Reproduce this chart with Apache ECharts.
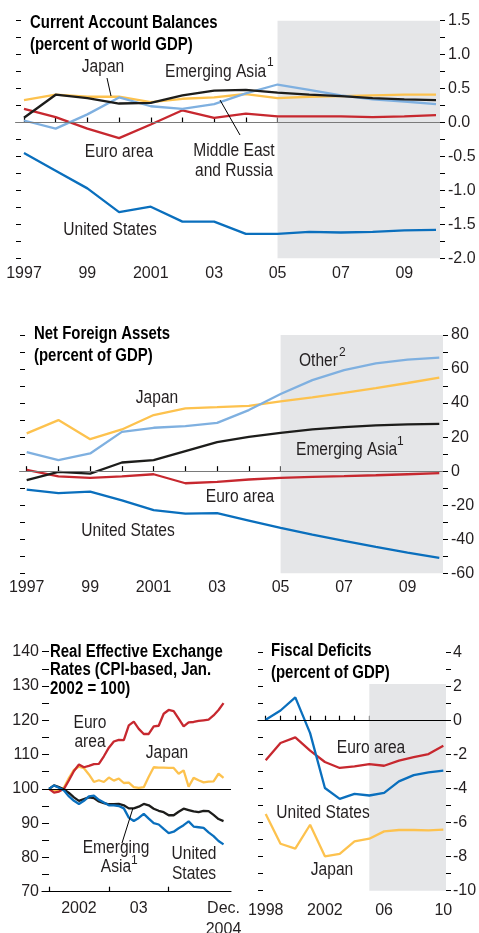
<!DOCTYPE html>
<html>
<head>
<meta charset="utf-8">
<script src="https://cdn.jsdelivr.net/npm/echarts@6/dist/echarts.min.js"></script>
<style>
  html, body { margin: 0; padding: 0; background: #fff; }
  #chart { width: 479px; height: 933px; }
</style>
</head>
<body>
<div id="chart"></div>
<script>
// ---- data ----
// Current account balances (percent of world GDP)
const caYears = [1997, 1998, 1999, 2000, 2001, 2002, 2003, 2004, 2005, 2006, 2007, 2008, 2009, 2010]
const caUS = [-0.45, -0.71, -0.97, -1.32, -1.24, -1.46, -1.46, -1.64, -1.64, -1.61, -1.62, -1.61, -1.59, -1.58]
const caEuro = [0.20, 0.08, -0.09, -0.23, -0.03, 0.18, 0.07, 0.13, 0.09, 0.09, 0.09, 0.08, 0.09, 0.11]
const caJapan = [0.33, 0.41, 0.38, 0.38, 0.30, 0.35, 0.37, 0.42, 0.36, 0.38, 0.39, 0.40, 0.41, 0.41]
const caAsia = [0.07, 0.41, 0.36, 0.28, 0.29, 0.40, 0.47, 0.48, 0.44, 0.41, 0.39, 0.36, 0.34, 0.33]
const caMER = [0.03, -0.09, 0.12, 0.37, 0.24, 0.20, 0.27, 0.43, 0.56, 0.48, 0.40, 0.34, 0.31, 0.27]

// Net foreign assets (percent of GDP)
const nfaYears = [1997, 1998, 1999, 2000, 2001, 2002, 2003, 2004, 2005, 2006, 2007, 2008, 2009, 2010]
const nfaJapan = [22.2, 30.0, 18.8, 24.5, 33.0, 36.9, 37.6, 38.4, 41.0, 43.3, 46.0, 48.8, 51.8, 54.9]
const nfaOther = [11.2, 6.5, 10.4, 23.1, 25.5, 26.5, 28.4, 35.9, 45.3, 53.5, 59.4, 63.3, 65.5, 66.7]
const nfaAsia = [-5.3, -0.4, -1.4, 5.1, 6.5, 11.8, 17.1, 20.2, 22.5, 24.5, 25.9, 26.9, 27.5, 27.8]
const nfaEuro = [0.8, -3.1, -3.9, -3.1, -1.8, -7.1, -6.3, -4.9, -3.9, -3.3, -2.9, -2.4, -1.8, -1.2]
const nfaUS = [-10.8, -12.9, -12.0, -17.1, -22.9, -24.9, -24.7, -29.0, -33.3, -37.3, -41.0, -44.5, -47.8, -51.0]

// Real effective exchange rates, monthly Jan. 2002 (index 0) to Dec. 2004 (index 35)
const reerMonths = [0, 1, 2, 3, 4, 5, 6, 7, 8, 9, 10, 11, 12, 13, 14, 15, 16, 17,
  18, 19, 20, 21, 22, 23, 24, 25, 26, 27, 28, 29, 30, 31, 32, 33, 34, 35]
const reerEuro = [100, 98.9, 99.2, 100, 102.5, 105.2, 107.1, 106.3, 106.7, 107.2, 107.3, 109.5,
  112.0, 113.8, 114.3, 114.2, 118.5, 119.6, 117.5, 116.0, 116.0, 118.2, 118.4, 121.9,
  123.0, 122.7, 120.5, 118.2, 119.4, 119.5, 119.8, 120.0, 120.2, 121.4, 123.0, 125.0]
const reerJapan = [100, 99.5, 99.6, 100.4, 103.2, 105.5, 106.5, 106.0, 104.2, 102.0, 102.5, 102.0,
  103.3, 102.4, 103.0, 101.7, 101.8, 100.5, 100.3, 100.5, 103.5, 106.3, 106.2, 106.2,
  106.1, 106.1, 104.4, 105.4, 100.6, 103.2, 102.5, 101.9, 102.1, 102.2, 104.4, 103.2]
const reerAsia = [100, 101.0, 100.5, 99.8, 98.8, 97.5, 96.5, 97.0, 97.5, 97.3, 96.3, 95.8,
  95.5, 95.5, 95.6, 95.2, 94.3, 94.3, 94.8, 95.6, 95.2, 94.2, 93.6, 93.2,
  92.3, 92.3, 93.3, 94.2, 93.8, 93.4, 93.2, 93.6, 93.5, 92.4, 91.2, 90.6]
const reerUS = [100, 101.0, 100.3, 99.5, 97.8, 96.5, 95.6, 96.5, 97.8, 98.0, 96.8, 96.0,
  95.2, 95.2, 95.0, 94.3, 91.6, 90.6, 91.5, 92.7, 91.3, 90.0, 89.6, 88.3,
  87.1, 87.5, 88.5, 89.4, 90.5, 89.0, 88.8, 88.6, 87.3, 86.2, 84.8, 83.8]

// Fiscal deficits (percent of GDP)
const fdYears = [1998, 1999, 2000, 2001, 2002, 2003, 2004, 2005, 2006, 2007, 2008, 2009, 2010]
const fdUS = [0.06, 0.6, 1.37, -0.73, -3.96, -4.6, -4.3, -4.4, -4.25, -3.57, -3.2, -3.04, -2.94]
const fdEuro = [-2.33, -1.31, -0.98, -1.76, -2.43, -2.78, -2.69, -2.55, -2.65, -2.35, -2.14, -1.96, -1.47]
const fdJapan = [-5.49, -7.24, -7.53, -6.12, -7.98, -7.84, -7.1, -6.94, -6.51, -6.43, -6.43, -6.45, -6.41]

// tick / label positions
const yearTicks = [1997, 1998, 1999, 2000, 2001, 2002, 2003, 2004, 2005, 2006, 2007, 2008, 2009, 2010]
const yearLabels = [1997, 1999, 2001, 2003, 2005, 2007, 2009]
const fdYearTicks = [1998, 1999, 2000, 2001, 2002, 2003, 2004, 2005, 2006, 2007, 2008, 2009, 2010]
const fdYearLabels = [1998, 2002, 2006, 2010]
const reerTicks = [0, 12, 24]
const reerLabels = [6, 18, 35]
const reerLabelText = { 6: '2002', 18: '03', 35: 'Dec.\n2004' }
const caYLabels = [-2, -1.5, -1, -0.5, 0, 0.5, 1, 1.5]
const projectionStart = 2005

// ---- style ----
// no condensed face installed: Arial-metric font, annotations squeezed with scaleX
const FONT = "'Liberation Sans', Arial, sans-serif"
const TXT = '#231f20'
const C = {
  us: '#0a6fbd',
  euro: '#c7282f',
  japan: '#fdc24e',
  asia: '#1d1d1b',
  light: '#7fb0e0',
  shade: '#e5e6e8'
}

const chart = echarts.init(document.getElementById('chart'), null, { renderer: 'canvas' })

const line = (xs, ys, color, idx) => ({
  type: 'line',
  xAxisIndex: idx,
  yAxisIndex: idx * 2,
  data: xs.map((x, i) => [x, ys[i]]),
  symbol: 'none',
  silent: true,
  lineStyle: { color: color, width: 2.3 },
  itemStyle: { color: color }
})

const shortYear = (v) => (v === 1997 || v === 2001 || v === 1998 || v === 2002) ? String(v) : String(v).slice(2)

const xBase = (grid, min, max, ticks, labels, fmt, margin) => ({
  type: 'value',
  gridIndex: grid,
  min: min,
  max: max,
  splitLine: { show: false },
  axisLine: { show: true, lineStyle: { color: '#000', width: 1.2 } },
  axisTick: { show: true, inside: true, length: 5, customValues: ticks, lineStyle: { color: '#000', width: 1.2 } },
  axisLabel: { customValues: labels, formatter: fmt, fontFamily: FONT, fontSize: 16, color: TXT, margin: margin, lineHeight: 21 }
})

const yPair = (grid, min, max, interval, labels, fmt, margin, leftLabels) => {
  const right = {
    type: 'value', gridIndex: grid, position: 'right', min: min, max: max, interval: interval,
    splitLine: { show: false },
    axisLine: { show: false },
    axisTick: { show: true, inside: !!leftLabels, length: 5, lineStyle: { color: '#000', width: 1 } },
    axisLabel: { show: !leftLabels, customValues: labels, formatter: fmt, fontFamily: FONT, fontSize: 16, color: TXT, margin: margin }
  }
  const left = {
    type: 'value', gridIndex: grid, position: 'left', min: min, max: max, interval: interval,
    splitLine: { show: false },
    axisLine: { show: false },
    axisTick: { show: true, inside: true, length: 5, lineStyle: { color: '#000', width: 1 } },
    axisLabel: { show: !!leftLabels, customValues: labels, formatter: fmt, fontFamily: FONT, fontSize: 16, color: TXT, margin: margin }
  }
  return [right, left]
}

// text annotations
const txt = (x, y, text, align, kind) => {
  const isBold = kind === 'bold'
  const isSup = kind === 'sup'
  return {
    type: 'text', x: x, y: y, silent: true, z: 20,
    scaleX: isSup ? 1 : (isBold ? 0.83 : 0.89),
    style: {
      text: text,
      fontFamily: FONT,
      fontSize: isSup ? 12 : (isBold ? 18 : 17.5),
      fontWeight: isBold ? 'bold' : 'normal',
      fill: isBold ? '#000' : TXT,
      align: align || 'left',
      verticalAlign: 'middle'
    }
  }
}
const lead = (x1, y1, x2, y2) => ({
  type: 'line', silent: true, z: 20,
  shape: { x1: x1, y1: y1, x2: x2, y2: y2 },
  style: { stroke: '#000', lineWidth: 1 }
})

const shade = (x0, x1, y0, y1) => ({
  silent: true,
  itemStyle: { color: C.shade },
  data: [[{ xAxis: x0, yAxis: y0 }, { xAxis: x1, yAxis: y1 }]]
})
const zeroLine = (v, color) => ({
  silent: true, symbol: 'none', label: { show: false },
  lineStyle: { color: color, width: 1.2, type: 'solid' },
  data: [{ yAxis: v }]
})

const caSeries = [
  Object.assign(line(caYears, caUS, C.us, 0), {
    markArea: shade(projectionStart, 2010.13, -2, 1.5),
    markLine: zeroLine(0, '#7a7a7a')
  }),
  line(caYears, caEuro, C.euro, 0),
  line(caYears, caJapan, C.japan, 0),
  line(caYears, caMER, C.light, 0),
  line(caYears, caAsia, C.asia, 0)
]
const nfaSeries = [
  Object.assign(line(nfaYears, nfaUS, C.us, 1), {
    markArea: shade(projectionStart, 2010.12, -60, 80),
    markLine: zeroLine(0, '#7a7a7a')
  }),
  line(nfaYears, nfaEuro, C.euro, 1),
  line(nfaYears, nfaJapan, C.japan, 1),
  line(nfaYears, nfaOther, C.light, 1),
  line(nfaYears, nfaAsia, C.asia, 1)
]
const reerSeries = [
  Object.assign(line(reerMonths, reerJapan, C.japan, 2), { markLine: zeroLine(100, '#000') }),
  line(reerMonths, reerEuro, C.euro, 2),
  line(reerMonths, reerAsia, C.asia, 2),
  line(reerMonths, reerUS, C.us, 2)
]
const fdSeries = [
  Object.assign(line(fdYears, fdJapan, C.japan, 3), {
    markArea: shade(projectionStart, 2010.18, -10, 2.16),
    markLine: zeroLine(0, '#000')
  }),
  line(fdYears, fdEuro, C.euro, 3),
  line(fdYears, fdUS, C.us, 3)
]

const option = {
  animation: false,
  backgroundColor: '#fff',
  grid: [
    { left: 16, top: 20.7, width: 424, height: 237.6, outerBoundsMode: 'none' },
    { left: 20, top: 335, width: 423, height: 238.3, outerBoundsMode: 'none' },
    { left: 42, top: 651.7, width: 189, height: 240, outerBoundsMode: 'none' },
    { left: 258, top: 652.7, width: 188, height: 238, outerBoundsMode: 'none' }
  ],
  xAxis: [
    xBase(0, 1996.748, 2010.126, yearTicks, yearLabels, shortYear, 5),
    xBase(1, 1996.789, 2010.117, yearTicks, yearLabels, shortYear, 4),
    xBase(2, -1.41, 36.5, reerTicks, reerLabels, (v) => reerLabelText[v] || '', 6),
    xBase(3, 1997.48, 2010.18, fdYearTicks, fdYearLabels, shortYear, 9)
  ],
  yAxis: [
    ...yPair(0, -2, 1.5, 0.25, caYLabels, (v) => v.toFixed(1), 8),
    ...yPair(1, -60, 80, 10, [-60, -40, -20, 0, 20, 40, 60, 80], (v) => String(v), 8),
    ...yPair(2, 70, 140, 5, [70, 80, 90, 100, 110, 120, 130, 140], (v) => String(v), 3, true),
    ...yPair(3, -10, 4, 1, [-10, -8, -6, -4, -2, 0, 2, 4], (v) => String(v), 7)
  ],
  series: [...caSeries, ...nfaSeries, ...reerSeries, ...fdSeries],
  graphic: [
    // current account
    txt(30, 23, 'Current Account Balances', 'left', 'bold'),
    txt(30, 45, '(percent of world GDP)', 'left', 'bold'),
    txt(103, 67, 'Japan', 'center'),
    lead(107, 78, 111, 96),
    txt(165, 72, 'Emerging Asia'),
    txt(267, 63, '1', 'left', 'sup'),
    txt(119, 152, 'Euro area', 'center'),
    txt(234, 151, 'Middle East', 'center'),
    txt(234, 171, 'and Russia', 'center'),
    lead(240, 135, 220, 100),
    txt(110, 230, 'United States', 'center'),
    // net foreign assets
    txt(34, 334, 'Net Foreign Assets', 'left', 'bold'),
    txt(34, 356, '(percent of GDP)', 'left', 'bold'),
    txt(299, 361, 'Other'),
    txt(339, 353, '2', 'left', 'sup'),
    txt(157, 398, 'Japan', 'center'),
    txt(296, 450, 'Emerging Asia'),
    txt(397, 442, '1', 'left', 'sup'),
    txt(240, 497, 'Euro area', 'center'),
    txt(128, 531, 'United States', 'center'),
    // real effective exchange rates
    txt(50, 652, 'Real Effective Exchange', 'left', 'bold'),
    txt(50, 670, 'Rates (CPI-based, Jan.', 'left', 'bold'),
    txt(50, 689, '2002 = 100)', 'left', 'bold'),
    txt(90, 723, 'Euro', 'center'),
    txt(90, 742, 'area', 'center'),
    txt(167, 753, 'Japan', 'center'),
    txt(116, 848, 'Emerging', 'center'),
    txt(116, 867, 'Asia', 'center'),
    txt(131, 861, '1', 'left', 'sup'),
    lead(122, 843, 133, 808),
    txt(194, 854, 'United', 'center'),
    txt(194, 874, 'States', 'center'),
    // fiscal deficits
    txt(271, 651, 'Fiscal Deficits', 'left', 'bold'),
    txt(271, 673, '(percent of GDP)', 'left', 'bold'),
    txt(371, 748, 'Euro area', 'center'),
    txt(323, 813, 'United States', 'center'),
    txt(332, 870, 'Japan', 'center')
  ]
}

chart.setOption(option)
window.addEventListener('resize', () => chart.resize())
</script>
</body>
</html>
